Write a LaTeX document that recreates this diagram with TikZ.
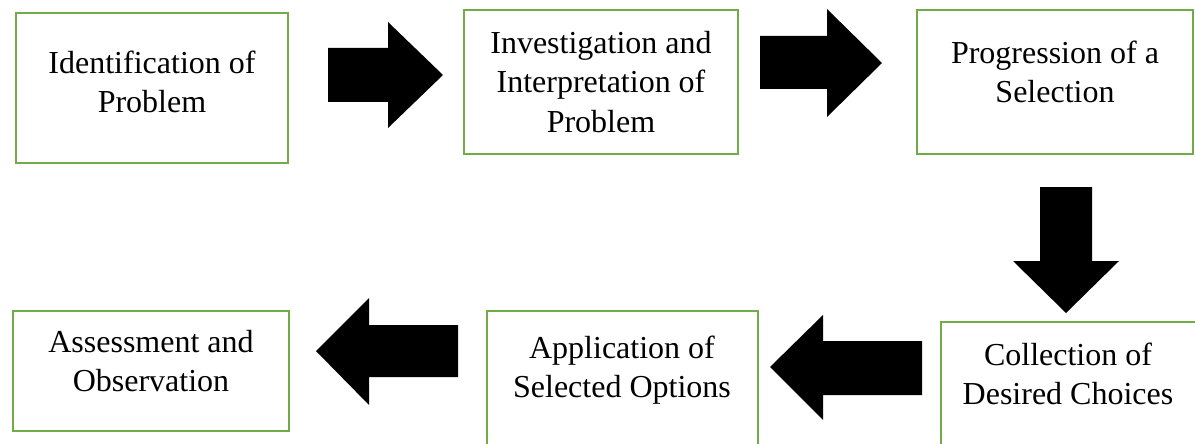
\documentclass[tikz,border=0pt]{standalone}
\usepackage{fontspec}
\setmainfont{Liberation Serif}
\definecolor{boxgreen}{HTML}{70AD47}
\tikzset{
  stepbox/.style={draw=boxgreen, line width=2.5pt, fill=white},
  txt/.style={align=center, font=\fontsize{32}{39.5}\selectfont, inner sep=0pt},
  blockarrow/.style={fill=black, draw=none}
}
\begin{document}
\begin{tikzpicture}[x=1pt, y=-1pt]
\clip (0,0) rectangle (1195,444);
\fill[white] (0,0) rectangle (1195,444);
% boxes
\draw[stepbox] (16,13) rectangle (288,163);
\draw[stepbox] (464,10) rectangle (738,154);
\draw[stepbox] (917,10) rectangle (1193,154);
\draw[stepbox] (941,322) rectangle (1215,470);
\draw[stepbox] (487,311) rectangle (758,470);
\draw[stepbox] (13,311) rectangle (289,431);
% texts
\node[txt] (t1) at (152,82) {Identification of\\Problem};
\node[txt] (t2) at (601,82) {Investigation and\\Interpretation of\\Problem};
\node[txt] (t3) at (1055,72) {Progression of a\\Selection};
\node[txt] (t4) at (1068,374) {Collection of\\Desired Choices};
\node[txt] (t5) at (622,370) {Application of\\Selected Options};
\node[txt] (t6) at (151,361) {Assessment and\\Observation};
% block arrows
\fill[blockarrow] (328,48) -- (388,48) -- (388,22) -- (443,75) -- (388,128) -- (388,102) -- (328,102) -- cycle;
\fill[blockarrow] (760,36) -- (827,36) -- (827,9) -- (882,63) -- (827,117) -- (827,89) -- (760,89) -- cycle;
\fill[blockarrow] (1040,187) -- (1092,187) -- (1092,261) -- (1119,261) -- (1066,313) -- (1013,261) -- (1040,261) -- cycle;
\fill[blockarrow] (922,341) -- (823,341) -- (823,315) -- (770,367) -- (823,420) -- (823,395) -- (922,395) -- cycle;
\fill[blockarrow] (458,325) -- (369,325) -- (369,298) -- (316,351) -- (369,405) -- (369,377) -- (458,377) -- cycle;
\end{tikzpicture}
\end{document}
